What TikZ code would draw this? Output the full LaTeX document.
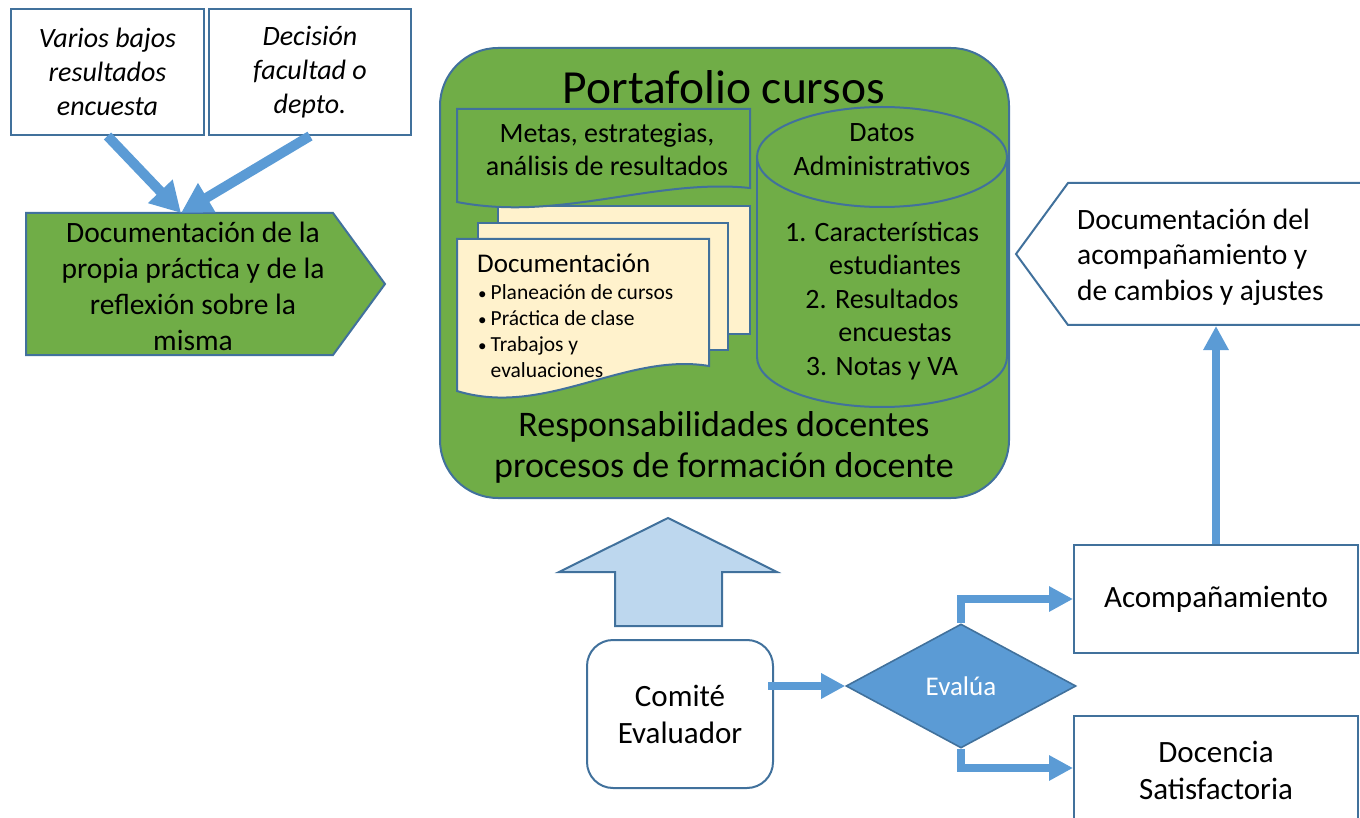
\documentclass[tikz,border=0pt]{standalone}
\usepackage{fontspec}
\setmainfont{Carlito}
\usetikzlibrary{arrows.meta,shapes.geometric,calc}
\definecolor{gfill}{HTML}{70AD47}
\definecolor{bstroke}{HTML}{41719C}
\definecolor{ablue}{HTML}{5B9BD5}
\definecolor{lblue}{HTML}{BDD7EE}
\definecolor{dyellow}{HTML}{FFF2CC}
\newcommand{\myfs}[2]{\fontsize{#1pt}{#2pt}\selectfont}
\begin{document}
\begin{tikzpicture}[x=1pt,y=-1pt,
  outline/.style={draw=bstroke, line width=2pt},
  whitebox/.style={outline, fill=white, rectangle, inner sep=0pt},
  txt/.style={inner sep=0pt, align=center},
  arr/.style={draw=ablue, line width=8pt, -{Triangle[length=24pt,width=24pt]}},
  bigarr/.style={draw=ablue, line width=10pt, -{Triangle[length=30pt,width=32pt]}}]
\useasboundingbox (0,0) rectangle (1360,818);

% top-left boxes
\node[whitebox, minimum width=193pt, minimum height=126pt, anchor=north west,
  font=\myfs{28}{34}\itshape, align=center] (b1) at (10,8) {Varios bajos\\resultados\\encuesta};
\node[whitebox, minimum width=202pt, minimum height=126pt, anchor=north west,
  font=\myfs{28}{34}\itshape, align=center] (b2) at (208,8) {Decisión\\facultad o\\depto.};

% green pentagon
\draw[outline, fill=gfill] (26,213) -- (333,213) -- (385,284) -- (333,355) -- (26,355) -- cycle;
\node[txt, font=\myfs{29.5}{36}] (pracT) at (193,286) {Documentación de la\\propia práctica y de la\\reflexión sobre la\\misma};
\coordinate (pracTop) at (181,213);
\draw[bigarr] (b1.south) -- (pracTop);
\draw[bigarr] (b2.south) -- (pracTop);

% portfolio container
\node[outline, fill=gfill, rounded corners=58pt, minimum width=569pt, minimum height=450pt,
  anchor=north west, inner sep=0pt] (port) at (439,47) {};
\node[txt, font=\myfs{47.5}{56}] (ptitle) at (724,87) {Portafolio cursos};

% documents stack
\draw[outline, fill=dyellow] (498,206) rectangle (750,334);
\draw[outline, fill=dyellow] (478,223) rectangle (728,350);
\draw[outline, fill=dyellow] (457,239) -- (709,239) -- (709,366) .. controls (625,352) and (545,418) .. (457,391) -- cycle;
\draw[outline, fill=gfill] (457,109) -- (750,109) -- (750,188) .. controls (655,178) and (560,222) .. (457,202) -- cycle;
\node[txt, font=\myfs{28}{33}] (metasT) at (607,149) {Metas, estrategias,\\análisis de resultados};
\node[anchor=west, inner sep=0pt, font=\myfs{27}{32}] (docT) at (477,263) {Documentación};
\node[anchor=base west, inner sep=0pt, font=\myfs{21.5}{26}] (docL) at (478,300)
  {\begin{tabular}[t]{@{}l@{\hspace{4pt}}l@{}}
   {\myfs{17}{26}•} & Planeación de cursos\\
   {\myfs{17}{26}•} & Práctica de clase\\
   {\myfs{17}{26}•} & Trabajos y\\
   & evaluaciones
   \end{tabular}};

% cylinder
\draw[outline, fill=gfill] (882,357) ellipse (125 and 50);
\fill[gfill] (757,157) rectangle (1007,357);
\draw[outline] (757,157) -- (757,357);
\draw[outline] (1007,157) -- (1007,357);
\draw[outline, fill=gfill] (882,157) ellipse (125 and 50);
\node[txt, font=\myfs{28}{34}] (datT) at (882,150) {Datos\\Administrativos};
\node[txt, font=\myfs{28}{33.5}] (datL) at (882,301) {1. Características\\\hspace*{26pt}estudiantes\\2. Resultados\\\hspace*{26pt}encuestas\\3. Notas y VA};

\node[txt, font=\myfs{36}{41}] (respT) at (724,447) {Responsabilidades docentes\\procesos de formación docente};

% block arrow up
\draw[outline, fill=lblue] (668,518) -- (777,572) -- (722,572) -- (722,626) -- (615,626) -- (615,572) -- (559,572) -- cycle;

% comite
\node[outline, fill=white, rounded corners=26pt, minimum width=186pt, minimum height=148pt,
  inner sep=0pt, align=center, font=\myfs{31}{37}] (com) at (680,714) {Comité\\Evaluador};

% diamond
\node[diamond, draw=bstroke, line width=1.6pt, fill=ablue, minimum width=230pt, minimum height=124pt,
  inner sep=0pt, aspect=1.85, text=white, font=\myfs{27}{31}] (ev) at (961,686) {Evalúa};

% right boxes
\node[whitebox, minimum width=284pt, minimum height=108pt, font=\myfs{31}{37}] (acomp) at (1216,599) {Acompañamiento};
\node[whitebox, minimum width=284pt, minimum height=130pt, anchor=north] (docen) at (1216,715) {};
\node[txt, font=\myfs{31}{37}] (docenT) at (1216,770) {Docencia\\Satisfactoria};

% right pentagon
\draw[outline, fill=white] (1068,183) -- (1372,183) -- (1372,325) -- (1068,325) -- (1016,254) -- cycle;
\coordinate (pentB) at (1216,326);
\node[anchor=west, inner sep=0pt, align=left, font=\myfs{29.5}{35.5}] (pentT) at (1077,257) {Documentación del\\acompañamiento y\\de cambios y ajustes};

% connectors
\draw[arr] ($(com.east |- ev.west)+(-6,0)$) -- (ev.west);
\draw[arr] (ev.north) |- (acomp.west);
\draw[arr] (ev.south) |- ($(docen.north west)+(0,53)$);
\draw[arr] (acomp.north) -- (pentB);
\end{tikzpicture}
\end{document}
